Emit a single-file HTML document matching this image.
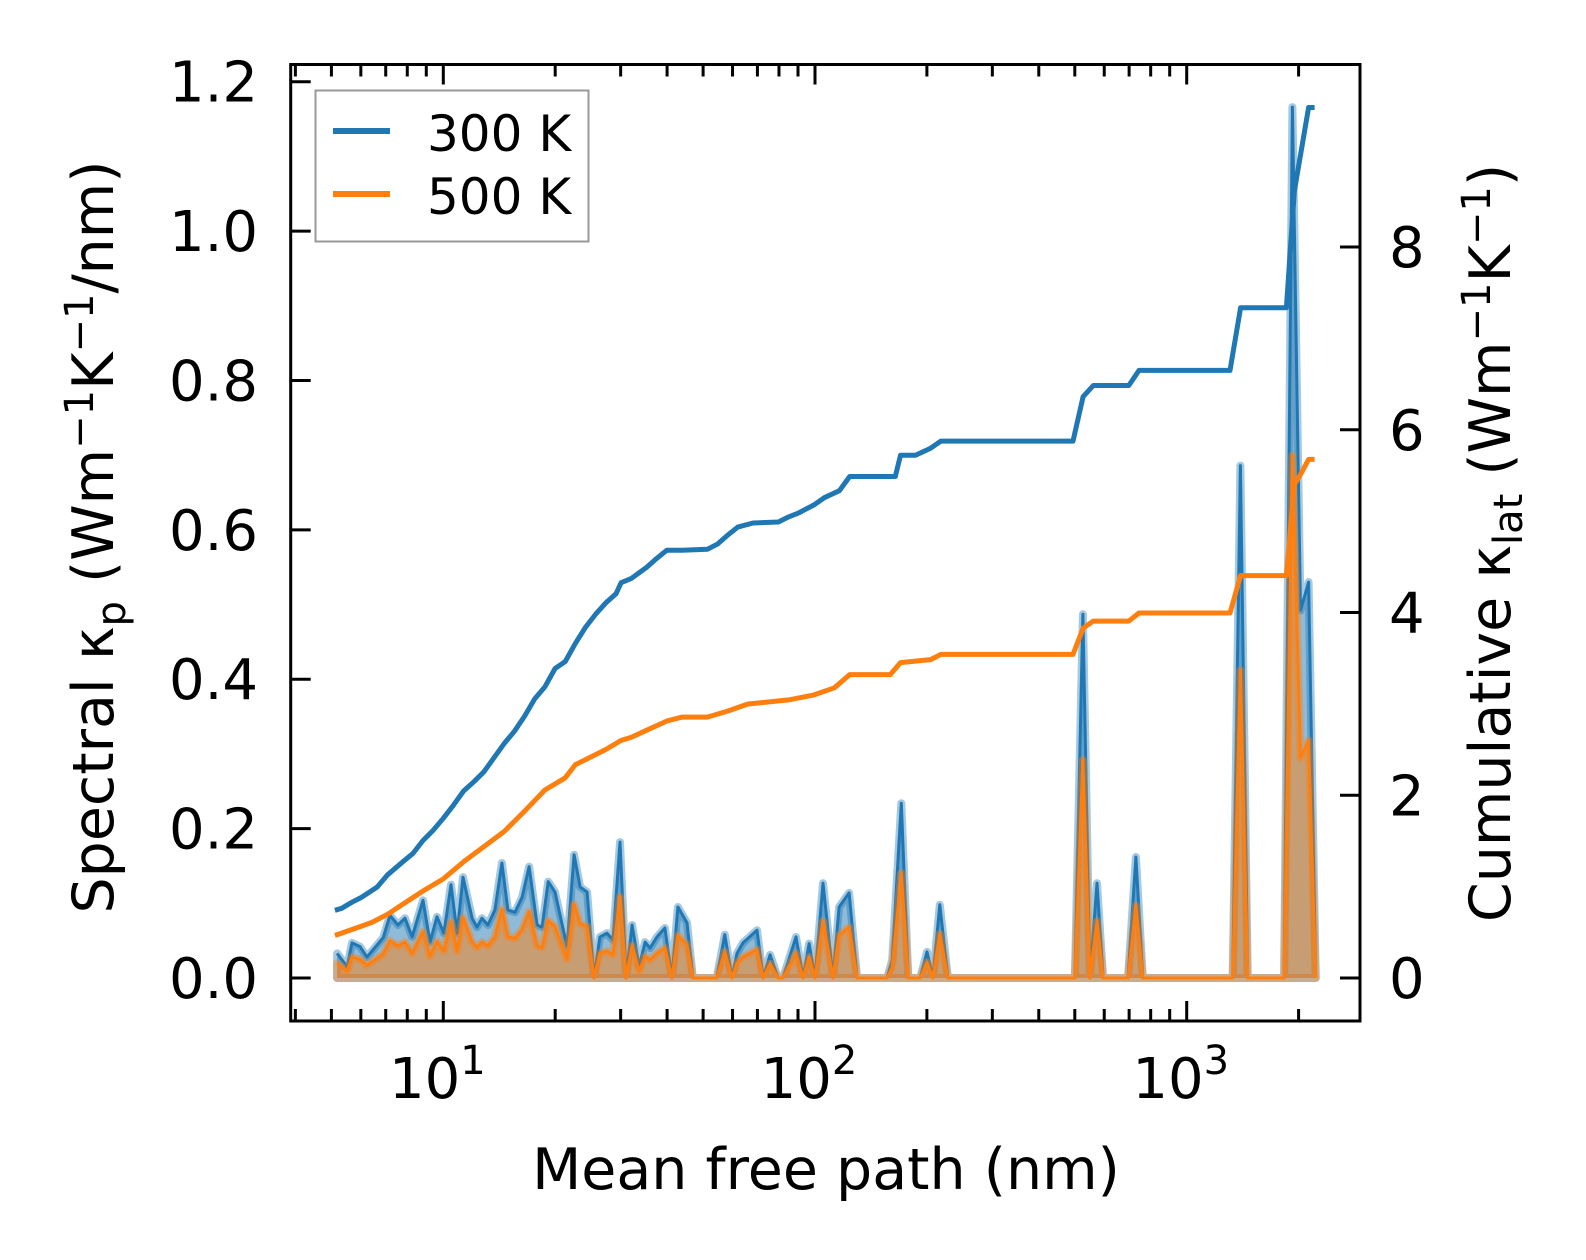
<!DOCTYPE html>
<html><head><meta charset="utf-8">
<style>
html,body{margin:0;padding:0;background:#fff;}
svg{display:block;}
text{font-family:"DejaVu Sans","Liberation Sans",sans-serif;fill:#000;}
</style></head>
<body>
<svg id="chart" width="1586" height="1260" viewBox="0 0 1586 1260" xmlns="http://www.w3.org/2000/svg">
<rect x="0" y="0" width="1586" height="1260" fill="#fff"/>
<g id="series"></g>
<g id="axes"></g>
<text x="826" y="1189" font-size="57" text-anchor="middle">Mean free path (nm)</text>
<text transform="translate(113,537) rotate(-90)" font-size="57" text-anchor="middle">Spectral κ<tspan font-size="40" dy="12">p</tspan><tspan dy="-12"> (Wm</tspan><tspan font-size="40" dy="-20">−1</tspan><tspan dy="20">K</tspan><tspan font-size="40" dy="-20">−1</tspan><tspan dy="20">/nm)</tspan></text>
<text transform="translate(1510,543) rotate(-90)" font-size="57" text-anchor="middle">Cumulative κ<tspan font-size="40" dy="12">lat</tspan><tspan dy="-12"> (Wm</tspan><tspan font-size="40" dy="-20">−1</tspan><tspan dy="20">K</tspan><tspan font-size="40" dy="-20">−1</tspan><tspan dy="20">)</tspan></text>
<g>
<rect x="315.5" y="90.5" width="273" height="151" fill="#fff" stroke="#999" stroke-width="2"/>
<line x1="333" y1="131" x2="390" y2="131" stroke="#1f77b4" stroke-width="6"/>
<text x="427" y="151" font-size="50">300 K</text>
<line x1="333" y1="194" x2="390" y2="194" stroke="#ff7f0e" stroke-width="6"/>
<text x="427" y="214" font-size="50">500 K</text>
</g>
</svg>
<script>
const specMfp = [5.18,5.51,5.68,5.97,6.23,6.89,7.19,7.55,7.89,8.24,8.82,9.21,9.62,10.04,10.49,10.89,11.30,11.95,12.32,12.70,13.18,13.77,14.38,14.92,15.59,16.29,17.01,17.88,18.44,19.15,19.97,21.52,22.48,23.33,24.37,25.43,26.39,27.57,28.62,29.88,31.04,32.20,33.63,34.90,35.98,37.58,39.46,41.21,42.76,45.25,46.95,54.4,57.2,59.8,61.7,64.0,69.8,72.5,75.7,79.5,82.0,88.9,92.9,96.4,100.0,105.1,111.8,116.1,123.5,129.8,156.3,161.3,170.7,178.2,191.9,200.1,207.6,216.7,227.8,500.4,525.8,549.1,573.7,595.6,695.3,730.2,762.1,1330,1395,1459,1828,1925,2024,2128,2223];
const spec300 = [0.033,0.015,0.047,0.042,0.028,0.054,0.084,0.071,0.080,0.055,0.104,0.048,0.082,0.060,0.125,0.060,0.135,0.080,0.068,0.080,0.071,0.091,0.154,0.091,0.088,0.108,0.149,0.071,0.068,0.129,0.115,0.042,0.165,0.122,0.115,0,0.055,0.060,0.051,0.182,0,0.071,0.015,0.048,0.040,0.055,0.067,0,0.095,0.074,0,0,0.058,0,0.033,0.047,0.064,0,0.031,0,0,0.055,0,0.046,0,0.127,0,0.095,0.114,0,0,0.024,0.234,0,0,0.035,0,0.098,0,0,0.487,0,0.127,0,0,0.162,0,0,0.686,0,0,1.166,0.492,0.530,0];
const spec500 = [0.020,0.009,0.028,0.025,0.017,0.032,0.050,0.043,0.048,0.033,0.062,0.029,0.049,0.036,0.075,0.036,0.081,0.048,0.041,0.048,0.043,0.055,0.092,0.055,0.053,0.065,0.089,0.043,0.041,0.077,0.069,0.025,0.099,0.073,0.069,0,0.033,0.036,0.031,0.109,0,0.043,0.009,0.029,0.024,0.033,0.040,0,0.057,0.044,0,0,0.035,0,0.020,0.028,0.038,0,0.019,0,0,0.033,0,0.028,0,0.076,0,0.057,0.068,0,0,0.014,0.140,0,0,0.021,0,0.059,0,0,0.292,0,0.076,0,0,0.097,0,0,0.412,0,0,0.700,0.295,0.318,0];
const cum300Mfp = [5.11,5.33,5.68,6.04,6.64,7.08,7.78,8.28,8.82,9.39,10,10.65,11.34,12.08,12.86,13.70,14.59,15.53,16.55,17.62,18.76,19.98,21.28,22.66,24.14,25.70,27.37,29.15,30.08,32.0,35.2,37.5,39.9,43.9,51.3,54.6,58.2,62.0,68.1,79.7,84.9,90.4,99.4,105.9,116.3,124.0,164.4,169.8,186.4,204.7,218.1,494.3,526.4,560.6,698.5,744.2,1308,1396,1855,1948,2128,2209];
const cum300 = [0.741,0.763,0.830,0.885,0.996,1.129,1.272,1.361,1.505,1.615,1.748,1.892,2.047,2.147,2.257,2.412,2.567,2.700,2.866,3.054,3.187,3.386,3.463,3.663,3.840,3.983,4.105,4.205,4.326,4.371,4.492,4.592,4.681,4.681,4.692,4.747,4.846,4.935,4.979,4.990,5.046,5.090,5.178,5.256,5.333,5.488,5.488,5.720,5.720,5.798,5.876,5.876,6.362,6.484,6.484,6.650,6.650,7.336,7.336,8.609,9.527,9.527];
const cum500Mfp = [5.11,5.68,6.43,7.08,7.78,8.82,10,11.34,12.86,14.59,16.55,18.76,21.28,22.66,24.14,27.37,30.08,32.0,35.2,39.9,43.9,51.3,58.2,66.0,84.9,99.4,112.8,124.0,159.4,169.8,204.7,218.1,494.3,526.4,560.6,698.5,744.2,1308,1396,1855,1948,2024,2128,2209];
const cum500 = [0.465,0.531,0.609,0.697,0.808,0.952,1.084,1.272,1.438,1.604,1.826,2.058,2.191,2.335,2.390,2.501,2.600,2.633,2.711,2.811,2.855,2.855,2.921,2.999,3.043,3.098,3.176,3.320,3.320,3.452,3.485,3.541,3.541,3.828,3.906,3.906,3.994,3.994,4.404,4.404,5.400,5.510,5.676,5.676];
const leftTicks = [0.0,0.2,0.4,0.6,0.8,1.0,1.2];
const leftTickLabels = ["0.0","0.2","0.4","0.6","0.8","1.0","1.2"];
const rightTicks = [0,2,4,6,8];
const rightTickLabels = ["0","2","4","6","8"];
const xMajorTicks = [10,100,1000];
const xMajorExp = ["1","2","3"];

const NS = "http://www.w3.org/2000/svg";
const AX = {l:290.7, r:1360, t:64.5, b:1021};
function xs(v){ return 443.3 + (Math.log10(v) - 1) * 371.7; }
function yl(v){ return 978 - v * 746.9; }
function yr(v){ return 978 - v * 91.375; }
function mk(tag, attrs, parent){
  const e = document.createElementNS(NS, tag);
  for (const k in attrs) e.setAttribute(k, attrs[k]);
  parent.appendChild(e); return e;
}
const series = document.getElementById('series');
const axes = document.getElementById('axes');

function linePts(xa, ya, yf){ return xa.map((x,i)=> xs(x).toFixed(1)+','+yf(ya[i]).toFixed(1)).join(' '); }
function areaPts(xa, ya){
  return xs(xa[0]).toFixed(1)+','+yl(0)+' '+linePts(xa, ya, yl)+' '+xs(xa[xa.length-1]).toFixed(1)+','+yl(0);
}
let f1 = mk('polygon',{points:areaPts(specMfp,spec300),fill:'#1f77b4','fill-opacity':0.5,stroke:'#1f77b4','stroke-opacity':0.4,'stroke-width':8,'stroke-linejoin':'round'},series);


let l1 = mk('polyline',{points:linePts(specMfp,spec300,yl),fill:'none',stroke:'#1f77b4','stroke-width':3,'stroke-linejoin':'round'},series);


let f2 = mk('polygon',{points:areaPts(specMfp,spec500),fill:'#ff7f0e','fill-opacity':0.5,stroke:'#ff7f0e','stroke-opacity':0.4,'stroke-width':8,'stroke-linejoin':'round'},series);


let l2 = mk('polyline',{points:linePts(specMfp,spec500,yl),fill:'none',stroke:'#ff7f0e','stroke-width':3,'stroke-linejoin':'round'},series);


let c1 = mk('polyline',{points:linePts(cum300Mfp,cum300,yr),fill:'none',stroke:'#1f77b4','stroke-width':5,'stroke-linejoin':'round'},series);


let c2 = mk('polyline',{points:linePts(cum500Mfp,cum500,yr),fill:'none',stroke:'#ff7f0e','stroke-width':5,'stroke-linejoin':'round'},series);



let fr = mk('rect',{x:AX.l,y:AX.t,width:AX.r-AX.l,height:AX.b-AX.t,fill:'none',stroke:'#000','stroke-width':3},axes);


leftTicks.forEach((v,i)=>{
  const y = yl(v);
  let t = mk('line',{x1:AX.l,x2:AX.l+20,y1:y,y2:y,stroke:'#000','stroke-width':3},axes);
  
  
  let lb = mk('text',{x:258,y:y+20,'font-size':56,'text-anchor':'end'},axes);
  lb.textContent = leftTickLabels[i];
  
  
});
rightTicks.forEach((v,i)=>{
  const y = yr(v);
  let t = mk('line',{x1:AX.r-20,x2:AX.r,y1:y,y2:y,stroke:'#000','stroke-width':3},axes);
  
  
  let lb = mk('text',{x:1389,y:y+20,'font-size':56},axes);
  lb.textContent = rightTickLabels[i];
  
  
});
for (let d=1; d<=1000; d*=10){
  for (let m=1; m<=9; m++){
    const v = d*m;
    const x = xs(v);
    if (x < AX.l || x > AX.r) continue;
    const len = m===1 ? 20 : 12;
    let tb = mk('line',{x1:x,x2:x,y1:AX.b,y2:AX.b-len,stroke:'#000','stroke-width':3},axes);
    
    
    let tt = mk('line',{x1:x,x2:x,y1:AX.t,y2:AX.t+len,stroke:'#000','stroke-width':3},axes);
    
    
  }
}
xMajorTicks.forEach((v,i)=>{
  const x = xs(v);
  let lb = mk('text',{x:x-6,y:1098,'font-size':56,'text-anchor':'middle'},axes);
  
  
  lb.textContent = '10';
  let sp = mk('tspan',{'font-size':40,dy:-24},lb);
  sp.textContent = xMajorExp[i];
});
</script>
</body></html>
